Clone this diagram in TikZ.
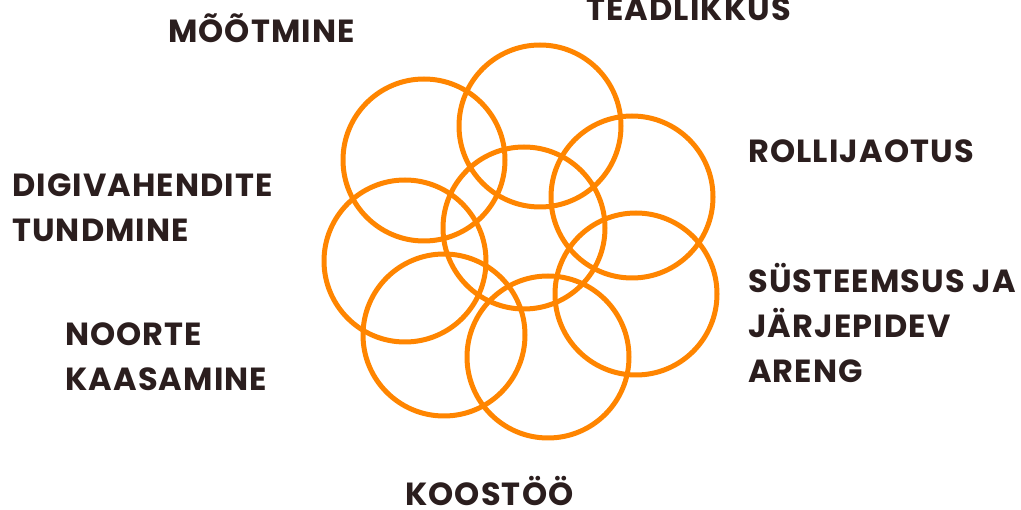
\documentclass[tikz,border=0pt]{standalone}
\usepackage{fontspec}
\newfontfamily\lblfont{Poppins}[LetterSpace=3.5]
\usepackage{tikz}
\usetikzlibrary{positioning}
\definecolor{ringorange}{HTML}{FF8500}
\definecolor{lbltext}{HTML}{2B1E1E}

\begin{document}
\begin{tikzpicture}[x=1pt, y=-1pt,
    ring/.style={circle, draw=ringorange, line width=5pt, minimum size=162pt, inner sep=0pt},
    lbl/.style={anchor=base west, align=left, inner sep=0pt, text=lbltext,
        font=\lblfont\bfseries\fontsize{32}{45}\selectfont}]
    \useasboundingbox (0,0) rectangle (1021,510);
    % rings
    \node[ring] (mid) at (524,228) {};
    \node[ring] (top) at (540,126) {};
    \node[ring] (rtop) at (632,197) {};
    \node[ring] (rgt) at (636,294) {};
    \node[ring] (bot) at (548,357) {};
    \node[ring] (lbot) at (444,335) {};
    \node[ring] (lft) at (405,261) {};
    \node[ring] (ltop) at (424,160) {};
    % labels (base = last line)
    \node[lbl] (moot) at (168,43) {MÕÕTMINE};
    \node[lbl] (tead) at (586,21) {TEADLIKKUS};
    \node[lbl] (roll) at (748,163) {ROLLIJAOTUS};
    \node[lbl] (digi) at (12,242) {DIGIVAHENDITE\\TUNDMINE};
    \node[lbl] (noor) at (65,391) {NOORTE\\KAASAMINE};
    \node[lbl] (syst) at (748,383) {SÜSTEEMSUS JA\\JÄRJEPIDEV\\ARENG};
    \node[lbl] (koos) at (405,506) {KOOSTÖÖ};
\end{tikzpicture}
\end{document}
